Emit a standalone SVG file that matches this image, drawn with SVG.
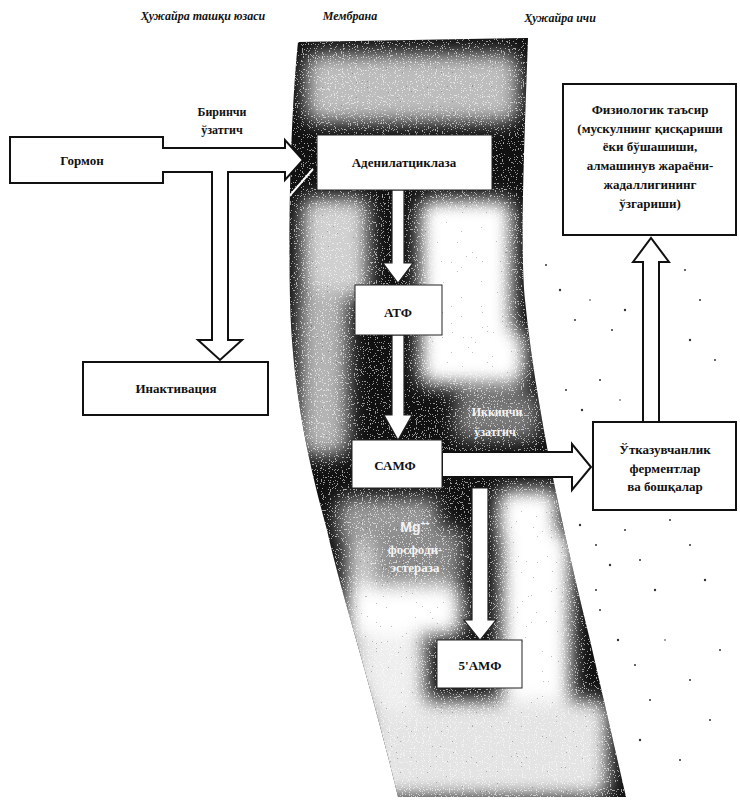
<svg xmlns="http://www.w3.org/2000/svg" width="740" height="801" viewBox="0 0 740 801">
<style>
.t{font-family:"Liberation Serif","DejaVu Serif",serif;font-weight:bold;font-size:13px;fill:#111;text-anchor:middle}
.h{font-family:"Liberation Serif","DejaVu Serif",serif;font-style:italic;font-weight:bold;font-size:12px;fill:#111;text-anchor:middle}
.w{font-family:"Liberation Serif","DejaVu Serif",serif;font-weight:bold;font-size:13px;fill:#f4f4f4;text-anchor:middle}
.box{fill:#fff;stroke:#111;stroke-width:2}
.ibox{fill:#fff;stroke:#222;stroke-width:1}
.arr{fill:#fff;stroke:#111;stroke-width:2;stroke-linejoin:miter}
.iarr{fill:#fff;stroke:#222;stroke-width:1.2}
.lite{fill:#fff}
.dot{fill:#333}
</style>
<defs>
<clipPath id="band"><path d="M298,42 L528,38 C524,150 520,250 525,300 C535,400 560,520 590,640 L626,797 L398,797 C370,680 340,590 327,530 C305,450 292,380 290,300 C288,200 292,100 298,42 Z"/></clipPath>
<filter id="blur" x="-30%" y="-30%" width="160%" height="160%"><feGaussianBlur stdDeviation="9"/></filter>
<filter id="speck" x="0" y="0" width="100%" height="100%">
<feTurbulence type="fractalNoise" baseFrequency="0.85" numOctaves="1" seed="4" result="n"/>
<feColorMatrix in="n" type="matrix" values="0 0 0 0 1  0 0 0 0 1  0 0 0 0 1  1 0 0 0 0" result="a"/>
<feComponentTransfer in="a"><feFuncA type="discrete" tableValues="0 0 0 0 0 0.8 1 1"/></feComponentTransfer>
</filter>
<filter id="speckd" x="0" y="0" width="100%" height="100%">
<feTurbulence type="fractalNoise" baseFrequency="0.8" numOctaves="1" seed="11" result="n"/>
<feColorMatrix in="n" type="matrix" values="0 0 0 0 0  0 0 0 0 0  0 0 0 0 0  1 0 0 0 0" result="a"/>
<feComponentTransfer in="a"><feFuncA type="discrete" tableValues="0 0 0 0 0 0 0.7 1"/></feComponentTransfer>
</filter>
</defs>

<!-- membrane -->
<g id="membrane">
<path d="M298,42 L528,38 C524,150 520,250 525,300 C535,400 560,520 590,640 L626,797 L398,797 C370,680 340,590 327,530 C305,450 292,380 290,300 C288,200 292,100 298,42 Z" fill="#111"/>
<g clip-path="url(#band)">
<g filter="url(#blur)">
<rect x="306" y="54" width="212" height="68" rx="14" fill="#bdbdbd"/>
<rect x="302" y="198" width="66" height="100" rx="12" fill="#d0d0d0"/>
<rect x="300" y="290" width="48" height="165" rx="12" fill="#b4b4b4"/>
<rect x="420" y="200" width="92" height="150" rx="12" class="lite"/>
<rect x="420" y="330" width="105" height="55" rx="12" class="lite"/>
<rect x="456" y="392" width="82" height="48" rx="10" fill="#7a7a7a"/>
<rect x="498" y="490" width="60" height="52" rx="10" class="lite"/>
<rect x="338" y="498" width="100" height="44" rx="10" fill="#9a9a9a"/>
<rect x="376" y="528" width="86" height="54" rx="10" fill="#8a8a8a"/>
<rect x="346" y="540" width="30" height="150" rx="10" fill="#c8c8c8"/>
<rect x="350" y="584" width="112" height="52" rx="12" class="lite"/>
<rect x="501" y="532" width="70" height="175" rx="12" class="lite"/>
<rect x="368" y="700" width="240" height="97" rx="14" fill="#e4e4e4"/>
<rect x="362" y="636" width="64" height="76" rx="12" fill="#eee"/>
</g>
<rect x="280" y="30" width="360" height="780" filter="url(#speck)" opacity="0.7"/>
<rect x="280" y="30" width="360" height="780" filter="url(#speckd)" opacity="0.35"/>
<line x1="286" y1="200" x2="313" y2="169" stroke="#fff" stroke-width="2"/>
</g>
</g>

<!-- connectors -->
<g id="connectors">
<path class="iarr" d="M392,190 V263 H383 L398,283 L413,263 H404 V190 Z"/>
<path class="iarr" d="M392,335 V415 H384 L398,440 L412,415 H404 V335 Z"/>
<path class="arr" d="M442,452 H572 V444 L591,467 L572,490 V477 H442 Z"/>
<path class="iarr" d="M472,488 V620 H464 L480,640 L496,620 H488 V488 Z"/>
<path class="arr" d="M643,422 V262 H633 L651,238 L669,262 H659 V422 Z"/>
</g>

<!-- nodes -->
<g id="gormon">
<path class="arr" d="M10,137 H163 V148 H285 V140 L303,160 L285,180 V172 H228 V340 H242 L220,360 L198,340 H212 V172 H163 V183 H10 Z"/>
<text class="t" x="82" y="165">Гормон</text>
</g>
<g id="adenyl">
<rect class="ibox" x="317" y="135" width="175" height="55"/>
<text class="t" x="404" y="167">Аденилатциклаза</text>
</g>
<g id="atf">
<rect class="ibox" x="355" y="285" width="87" height="50"/>
<text class="t" x="398" y="317">АТФ</text>
</g>
<g id="camf">
<rect class="ibox" x="352" y="440" width="90" height="48"/>
<text class="t" x="395" y="470">САМФ</text>
</g>
<g id="amf5">
<rect class="ibox" x="437" y="640" width="85" height="48"/>
<text class="t" x="480" y="670">5'АМФ</text>
</g>
<g id="inakt">
<rect class="box" x="83" y="362" width="185" height="53"/>
<text class="t" x="176" y="393">Инактивация</text>
</g>
<g id="fiziol">
<rect class="box" x="563" y="84" width="173" height="151"/>
<text class="t" x="650" y="114">Физиологик таъсир</text>
<text class="t" x="650" y="133">(мускулнинг қисқариши</text>
<text class="t" x="650" y="151">ёки бўшашиши,</text>
<text class="t" x="650" y="170">алмашинув жараёни-</text>
<text class="t" x="650" y="189">жадаллигининг</text>
<text class="t" x="650" y="208">ўзгариши)</text>
</g>
<g id="otkaz">
<rect class="box" x="593" y="422" width="143" height="88"/>
<text class="t" x="665" y="454">Ўтказувчанлик</text>
<text class="t" x="665" y="473">ферментлар</text>
<text class="t" x="665" y="491">ва бошқалар</text>
</g>

<!-- labels -->
<g id="labels">
<text class="h" x="203" y="20">Ҳужайра ташқи юзаси</text>
<text class="h" x="350" y="20">Мембрана</text>
<text class="h" x="560" y="22">Ҳужайра ичи</text>
<text class="t" x="222" y="116" style="font-size:12px">Биринчи</text>
<text class="t" x="222" y="134" style="font-size:12px">ўзатгич</text>
<text class="w" x="497" y="416" style="font-size:12px">Иккинчи</text>
<text class="w" x="495" y="436" style="font-size:12px">ўзатгич</text>
<text class="w" x="415" y="532" style="font-family:'Liberation Sans',sans-serif;font-size:14px">Mg<tspan dy="-6" style="font-size:8px">++</tspan></text>
<text class="w" x="415" y="554">фосфоди-</text>
<text class="w" x="415" y="572">эстераза</text>
</g>

<!-- scattered dots -->
<g id="dots">
<circle class="dot" cx="546" cy="265" r="1"/><circle class="dot" cx="560" cy="290" r="1.2"/>
<circle class="dot" cx="575" cy="320" r="1"/><circle class="dot" cx="590" cy="300" r="0.8"/>
<circle class="dot" cx="612" cy="330" r="1"/><circle class="dot" cx="625" cy="310" r="1.2"/>
<circle class="dot" cx="685" cy="270" r="1"/><circle class="dot" cx="700" cy="300" r="1"/>
<circle class="dot" cx="690" cy="340" r="1.2"/><circle class="dot" cx="715" cy="360" r="1"/>
<circle class="dot" cx="566" cy="390" r="1"/><circle class="dot" cx="582" cy="410" r="1.2"/>
<circle class="dot" cx="600" cy="380" r="1"/><circle class="dot" cx="620" cy="400" r="0.8"/>
<circle class="dot" cx="580" cy="525" r="1.2"/><circle class="dot" cx="596" cy="545" r="1"/>
<circle class="dot" cx="610" cy="565" r="1.2"/><circle class="dot" cx="625" cy="530" r="1"/>
<circle class="dot" cx="640" cy="560" r="1"/><circle class="dot" cx="655" cy="590" r="1.2"/>
<circle class="dot" cx="670" cy="520" r="1"/><circle class="dot" cx="690" cy="545" r="1"/>
<circle class="dot" cx="705" cy="580" r="1.2"/><circle class="dot" cx="600" cy="610" r="1"/>
<circle class="dot" cx="618" cy="640" r="1.2"/><circle class="dot" cx="635" cy="665" r="1"/>
<circle class="dot" cx="650" cy="700" r="1"/><circle class="dot" cx="665" cy="640" r="0.8"/>
<circle class="dot" cx="690" cy="680" r="1"/><circle class="dot" cx="710" cy="720" r="1"/>
<circle class="dot" cx="640" cy="740" r="1.2"/><circle class="dot" cx="680" cy="760" r="1"/>
<circle class="dot" cx="720" cy="650" r="1"/><circle class="dot" cx="596" cy="590" r="1"/>
</g>
</svg>
